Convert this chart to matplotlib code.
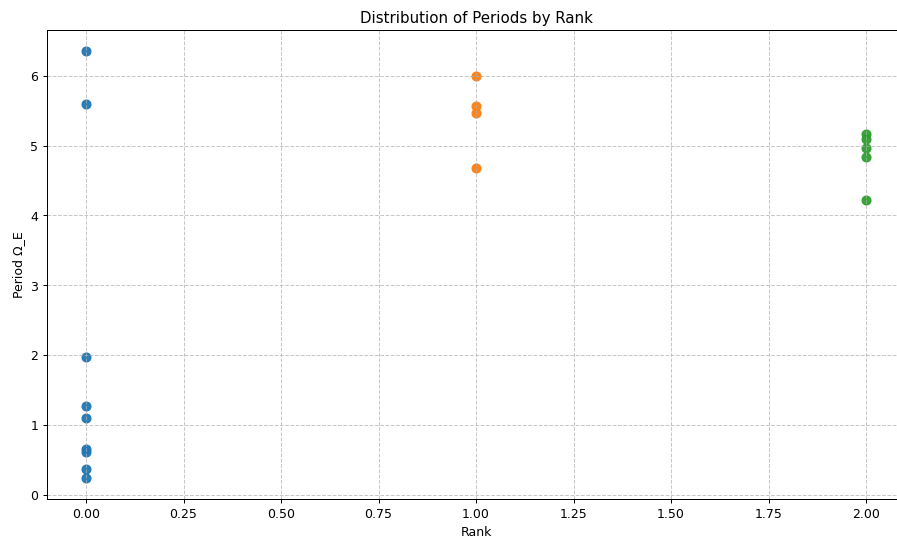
import matplotlib
matplotlib.use("Agg")
import matplotlib.pyplot as plt

rank0 = [6.35, 5.60, 1.98, 1.27, 1.10, 0.66, 0.62, 0.37, 0.25]
rank1 = [6.00, 5.56, 5.46, 4.68]
rank2 = [5.17, 5.09, 4.97, 4.83, 4.22]
ranks = [0, 1, 2]
series = [rank0, rank1, rank2]

W, H = 897, 538
fig = plt.figure(figsize=(10, 6), dpi=89.7)
ax = fig.add_axes([47 / W, 1 - 499 / H, (905 - 47) / W, (499 - 30) / H])
for r, vals in zip(ranks, series):
    ax.scatter([r] * len(vals), vals, s=50, alpha=0.95)
ax.set_title("Distribution of Periods by Rank")
ax.set_xlabel("Rank")
ax.set_ylabel("Period Ω_E")
ax.grid(True, linestyle="--", alpha=0.7)
fig.savefig("out.png")
